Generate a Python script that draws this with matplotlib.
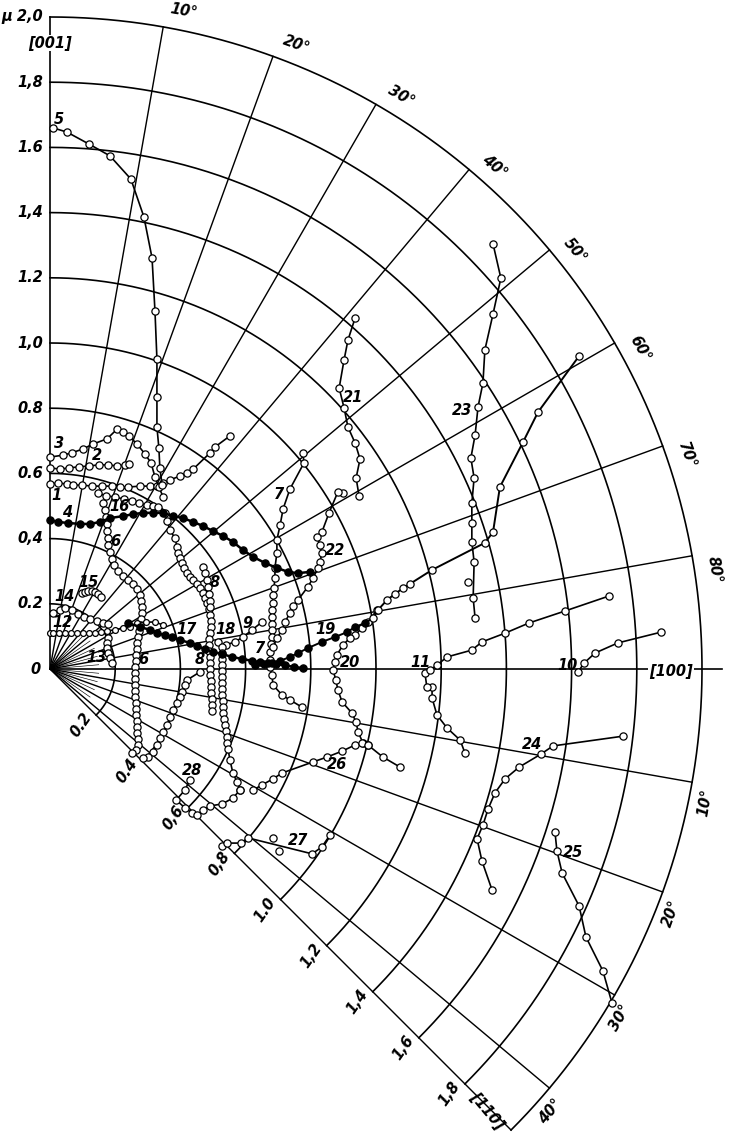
import numpy as np
import matplotlib.pyplot as plt

plt.rcParams['font.family'] = ['DejaVu Sans']

# ---- curves: mu components, x along [100], y along [001] (y < 0 : section toward [110]) ----
curve1 = [(0.0, 0.567), (0.025, 0.571), (0.052, 0.567), (0.071, 0.564), (0.098, 0.564), (0.129, 0.561),
          (0.160, 0.561), (0.190, 0.561), (0.215, 0.558), (0.239, 0.558), (0.276, 0.561), (0.307, 0.561),
          (0.328, 0.561), (0.347, 0.571), (0.368, 0.580), (0.399, 0.592), (0.420, 0.601), (0.439, 0.613),
          (0.491, 0.663), (0.506, 0.681), (0.552, 0.715)]
curve2 = [(0.0, 0.617), (0.031, 0.613), (0.058, 0.617), (0.089, 0.620), (0.120, 0.623), (0.150, 0.626),
          (0.178, 0.626), (0.206, 0.623), (0.230, 0.626), (0.242, 0.629)]
curve3 = [(0.0, 0.650), (0.040, 0.656), (0.067, 0.663), (0.101, 0.675), (0.132, 0.690), (0.175, 0.706),
          (0.206, 0.736), (0.224, 0.727), (0.242, 0.715), (0.267, 0.690), (0.291, 0.660), (0.310, 0.632),
          (0.322, 0.589), (0.334, 0.558), (0.347, 0.528)]
curve4 = [(0.0, 0.457), (0.025, 0.451), (0.055, 0.448), (0.092, 0.445), (0.123, 0.445), (0.153, 0.451),
          (0.184, 0.463), (0.224, 0.469), (0.255, 0.475), (0.285, 0.479), (0.316, 0.479), (0.347, 0.479),
          (0.377, 0.469), (0.408, 0.463), (0.439, 0.451), (0.469, 0.439), (0.500, 0.423), (0.531, 0.408),
          (0.561, 0.390), (0.592, 0.365), (0.623, 0.344), (0.660, 0.325), (0.696, 0.310), (0.730, 0.298),
          (0.761, 0.294), (0.798, 0.298)]
curve5 = [(0.009, 1.660), (0.052, 1.647), (0.120, 1.610), (0.184, 1.574), (0.248, 1.503), (0.288, 1.387),
          (0.313, 1.261), (0.322, 1.098), (0.328, 0.951), (0.328, 0.834), (0.328, 0.742), (0.334, 0.678),
          (0.337, 0.617), (0.344, 0.564)]
curve6 = [(0.163, 0.509), (0.169, 0.488), (0.172, 0.466), (0.175, 0.445), (0.175, 0.423), (0.178, 0.402),
          (0.178, 0.380), (0.184, 0.359), (0.190, 0.337), (0.196, 0.319), (0.209, 0.301), (0.224, 0.285),
          (0.239, 0.273), (0.255, 0.261), (0.267, 0.245), (0.276, 0.227), (0.279, 0.209), (0.282, 0.190),
          (0.282, 0.172), (0.279, 0.153), (0.276, 0.135), (0.273, 0.117), (0.270, 0.098), (0.267, 0.080),
          (0.267, 0.061), (0.264, 0.043), (0.264, 0.025), (0.261, 0.006), (0.261, -0.012), (0.261, -0.031),
          (0.261, -0.049), (0.261, -0.067), (0.261, -0.086), (0.264, -0.104), (0.264, -0.123), (0.264, -0.141),
          (0.267, -0.160), (0.267, -0.178), (0.267, -0.196), (0.270, -0.215), (0.270, -0.233), (0.264, -0.248),
          (0.252, -0.258)]
curve7 = [(0.776, 0.663), (0.779, 0.632), (0.736, 0.552), (0.715, 0.491), (0.706, 0.442), (0.696, 0.396),
          (0.696, 0.356), (0.690, 0.310), (0.690, 0.279), (0.687, 0.248), (0.684, 0.227), (0.684, 0.202),
          (0.681, 0.181), (0.681, 0.160), (0.681, 0.138), (0.681, 0.120), (0.681, 0.098), (0.678, 0.077),
          (0.675, 0.052), (0.675, 0.028), (0.675, 0.006), (0.681, -0.018), (0.684, -0.049), (0.712, -0.080),
          (0.736, -0.095), (0.773, -0.117)]
curve8 = [(0.353, 0.479), (0.359, 0.454), (0.368, 0.426), (0.383, 0.402), (0.390, 0.374), (0.393, 0.356),
          (0.399, 0.340), (0.405, 0.325), (0.411, 0.310), (0.420, 0.294), (0.429, 0.282), (0.439, 0.273),
          (0.451, 0.261), (0.460, 0.248), (0.469, 0.233), (0.475, 0.218), (0.482, 0.202), (0.488, 0.184),
          (0.491, 0.166), (0.494, 0.147), (0.494, 0.129), (0.491, 0.110), (0.488, 0.092), (0.488, 0.074),
          (0.488, 0.055), (0.491, 0.037), (0.491, 0.018), (0.491, 0.000), (0.491, -0.018), (0.494, -0.037),
          (0.494, -0.055), (0.494, -0.074), (0.497, -0.092), (0.497, -0.110), (0.497, -0.129)]
curve8b = [(0.469, 0.313), (0.475, 0.294), (0.482, 0.273), (0.485, 0.252), (0.488, 0.230), (0.491, 0.209),
           (0.491, 0.190)]
curve8c = [(0.460, -0.009), (0.420, -0.034), (0.414, -0.049), (0.405, -0.071), (0.399, -0.086), (0.390, -0.104),
           (0.377, -0.126), (0.368, -0.147), (0.359, -0.172), (0.347, -0.193), (0.337, -0.212), (0.328, -0.233),
           (0.316, -0.255), (0.301, -0.270), (0.285, -0.273)]
curve9 = [(0.650, 0.144), (0.620, 0.120), (0.592, 0.098), (0.567, 0.083), (0.540, 0.074)]
curve10 = [(1.620, -0.009), (1.638, 0.018), (1.672, 0.049), (1.742, 0.080), (1.874, 0.113)]
curve11 = [(1.273, -0.258), (1.258, -0.218), (1.218, -0.181), (1.187, -0.141), (1.172, -0.089), (1.172, -0.055),
           (1.156, -0.055), (1.150, -0.012), (1.166, -0.003), (1.187, 0.012), (1.218, 0.037), (1.294, 0.058),
           (1.325, 0.083), (1.396, 0.110), (1.469, 0.141), (1.580, 0.178), (1.715, 0.224)]
curve12 = [(0.0, 0.110), (0.009, 0.110), (0.028, 0.110), (0.046, 0.110), (0.064, 0.110), (0.083, 0.110),
           (0.101, 0.110), (0.120, 0.110), (0.138, 0.110), (0.156, 0.113), (0.175, 0.117), (0.199, 0.120),
           (0.224, 0.126), (0.245, 0.129), (0.267, 0.141), (0.294, 0.144), (0.322, 0.144), (0.347, 0.135)]
curve13 = [(0.178, 0.095), (0.175, 0.080), (0.175, 0.064), (0.178, 0.049), (0.184, 0.034), (0.190, 0.018)]
curve14 = [(0.009, 0.172), (0.031, 0.181), (0.046, 0.187), (0.067, 0.181), (0.086, 0.169), (0.104, 0.160),
           (0.123, 0.153), (0.144, 0.147), (0.163, 0.141), (0.178, 0.138)]
curve15 = [(0.098, 0.233), (0.107, 0.236), (0.117, 0.239), (0.129, 0.239), (0.138, 0.236), (0.147, 0.230),
           (0.156, 0.221)]
curve16 = [(0.147, 0.540), (0.172, 0.531), (0.199, 0.528), (0.227, 0.521), (0.252, 0.515), (0.273, 0.509),
           (0.298, 0.503), (0.316, 0.500), (0.331, 0.497)]
curve17 = [(0.239, 0.141), (0.276, 0.129), (0.307, 0.120), (0.328, 0.110), (0.353, 0.104), (0.374, 0.098),
           (0.399, 0.089), (0.429, 0.080), (0.451, 0.071), (0.475, 0.061), (0.500, 0.052), (0.528, 0.046),
           (0.558, 0.037), (0.589, 0.031), (0.620, 0.025), (0.644, 0.021), (0.669, 0.018), (0.693, 0.015),
           (0.721, 0.012), (0.748, 0.006), (0.776, 0.003)]
curve18 = [(0.515, 0.083), (0.528, 0.067), (0.528, 0.049), (0.528, 0.031), (0.528, 0.012), (0.528, -0.006),
           (0.528, -0.025), (0.528, -0.043), (0.528, -0.061), (0.528, -0.080), (0.531, -0.098), (0.531, -0.117),
           (0.531, -0.135), (0.534, -0.153), (0.537, -0.172), (0.540, -0.190), (0.543, -0.209), (0.543, -0.227),
           (0.546, -0.245), (0.552, -0.279), (0.561, -0.319), (0.574, -0.347), (0.583, -0.371)]
curve19 = [(0.629, 0.012), (0.656, 0.015), (0.681, 0.018), (0.706, 0.025), (0.736, 0.037), (0.761, 0.049),
           (0.791, 0.064), (0.834, 0.083), (0.874, 0.098), (0.911, 0.113), (0.936, 0.129), (0.966, 0.141),
           (0.991, 0.156), (1.006, 0.181), (1.034, 0.212), (1.058, 0.230), (1.083, 0.248), (1.104, 0.261),
           (1.172, 0.304), (1.334, 0.387), (1.359, 0.420), (1.380, 0.558), (1.451, 0.696), (1.497, 0.788),
           (1.623, 0.960)]
curve20 = [(1.003, 0.181), (0.975, 0.144), (0.957, 0.126), (0.936, 0.104), (0.920, 0.095), (0.899, 0.074),
           (0.880, 0.043), (0.874, 0.021), (0.868, -0.003), (0.877, -0.034), (0.883, -0.064), (0.896, -0.101),
           (0.926, -0.135), (0.939, -0.163), (0.945, -0.193), (0.960, -0.227), (0.975, -0.233), (1.021, -0.270),
           (1.074, -0.301)]
curve21 = [(0.936, 1.077), (0.914, 1.009), (0.902, 0.948), (0.887, 0.862), (0.902, 0.801), (0.914, 0.742),
           (0.936, 0.693), (0.951, 0.644), (0.939, 0.586), (0.948, 0.531)]
curve22 = [(0.899, 0.540), (0.883, 0.543), (0.856, 0.479), (0.834, 0.420), (0.819, 0.405), (0.828, 0.380),
           (0.834, 0.356), (0.828, 0.328), (0.822, 0.310), (0.807, 0.279), (0.791, 0.252), (0.761, 0.212),
           (0.745, 0.193), (0.736, 0.172), (0.721, 0.144), (0.712, 0.120), (0.696, 0.095), (0.684, 0.067)]
curve23 = [(1.359, 1.304), (1.383, 1.199), (1.359, 1.089), (1.334, 0.979), (1.328, 0.877), (1.313, 0.804),
           (1.304, 0.718), (1.291, 0.647), (1.301, 0.586), (1.294, 0.509), (1.294, 0.448), (1.294, 0.390),
           (1.301, 0.328), (1.298, 0.218), (1.304, 0.156)]
curve23_extra = [(1.282, 0.267)]
curve24 = [(1.758, -0.206), (1.543, -0.236), (1.506, -0.261), (1.439, -0.301), (1.396, -0.337), (1.365, -0.380),
           (1.344, -0.429), (1.328, -0.479), (1.310, -0.521), (1.325, -0.589), (1.356, -0.678)]
curve25 = [(1.549, -0.500), (1.555, -0.558), (1.571, -0.626), (1.623, -0.727), (1.644, -0.822), (1.696, -0.926),
           (1.724, -1.025)]
curve26 = [(0.623, -0.371), (0.650, -0.356), (0.684, -0.337), (0.712, -0.319), (0.807, -0.285), (0.850, -0.270),
           (0.896, -0.252), (0.936, -0.233), (0.957, -0.227), (0.975, -0.233)]
curve27 = [(0.528, -0.543), (0.543, -0.534), (0.586, -0.534), (0.607, -0.518), (0.804, -0.567), (0.834, -0.546),
           (0.859, -0.509)]
curve27_extra = [(0.684, -0.518), (0.702, -0.558)]
curve28 = [(0.429, -0.340), (0.414, -0.371), (0.387, -0.402), (0.414, -0.426), (0.436, -0.442), (0.451, -0.448),
           (0.469, -0.433), (0.491, -0.420), (0.528, -0.414), (0.561, -0.396), (0.583, -0.371)]

open_curves = [curve1, curve2, curve3, curve5, curve6, curve7, curve8, curve8b, curve8c, curve9, curve10,
               curve11, curve13, curve14, curve15, curve16, curve18, curve20, curve21, curve22, curve23,
               curve24, curve25, curve26, curve27, curve28]
small_curves = [curve12]
filled_curves = [curve4, curve17]
n_filled_19 = 12
scatter_only = curve23_extra + curve27_extra

# curve numbers and where they are written
curve_labels = [('5', 0.028, 1.687), ('3', 0.028, 0.693), ('2', 0.144, 0.656), ('1', 0.021, 0.531),
                ('4', 0.052, 0.479), ('16', 0.212, 0.497), ('6', 0.199, 0.390), ('15', 0.117, 0.264),
                ('14', 0.046, 0.221), ('12', 0.037, 0.144), ('13', 0.144, 0.034), ('6', 0.285, 0.028),
                ('17', 0.420, 0.120), ('18', 0.537, 0.120), ('8', 0.506, 0.264), ('8', 0.460, 0.028),
                ('9', 0.607, 0.141), ('7', 0.644, 0.064), ('7', 0.702, 0.534), ('19', 0.844, 0.120),
                ('20', 0.920, 0.021), ('21', 0.929, 0.834), ('22', 0.874, 0.362), ('23', 1.264, 0.794),
                ('11', 1.135, 0.021), ('10', 1.586, 0.012), ('24', 1.479, -0.233), ('25', 1.604, -0.564),
                ('26', 0.880, -0.294), ('27', 0.761, -0.525), ('28', 0.436, -0.310)]

# grid
radii = [0.2, 0.4, 0.6, 0.8, 1.0, 1.2, 1.4, 1.6, 1.8, 2.0]
axis_labels = ['0.2', '0,4', '0.6', '0.8', '1,0', '1.2', '1,4', '1.6', '1,8', '2,0']
lower_labels = ['0.2', '0.4', '0,6', '0,8', '1.0', '1,2', '1,4', '1,6', '1,8']
upper_angles = [10, 20, 30, 40, 50, 60, 70, 80]
lower_angles = [10, 20, 30, 40]

fig = plt.figure(figsize=(7.32, 11.38), dpi=100)
ax = fig.add_axes([0, 0, 1, 1])
ax.set_xlim(-50 / 326, 682 / 326)
ax.set_ylim(-469 / 326, 669 / 326)
ax.set_aspect('equal')
ax.axis('off')

lw = 1.2
# phi measured from [001] clockwise; 90 = [100], 135 = [110]
phi = np.radians(np.linspace(0, 135, 400))
for r in radii:
    ax.plot(r * np.sin(phi), r * np.cos(phi), color='k', lw=lw, zorder=1)

ax.plot([0, 0], [0, 2.0], color='k', lw=lw, zorder=1)
ax.plot([0, 2.06], [0, 0], color='k', lw=lw, zorder=1)
for a in upper_angles:
    t = np.radians(a)
    ax.plot([0, 2.0 * np.sin(t)], [0, 2.0 * np.cos(t)], color='k', lw=lw * 0.85, zorder=1)
for a in lower_angles + [45]:
    t = np.radians(a)
    ax.plot([0, 2.0 * np.cos(t)], [0, -2.0 * np.sin(t)], color='k', lw=lw * 0.85, zorder=1)
# short fan lines near the origin
for a in range(45, 135, 5):
    if a % 10 == 0:
        continue
    t = np.radians(a)
    ax.plot([0, 0.15 * np.sin(t)], [0, 0.15 * np.cos(t)], color='k', lw=0.45, zorder=1)

txt = dict(fontsize=10.5, style='italic', weight='bold', color='k')
for r, lab in zip(radii, axis_labels):
    s = lab if r < 2.0 else '\u03bc ' + lab
    ax.text(-0.022, r, s, ha='right', va='center', **txt)
ax.text(-0.03, 0.0, '0', ha='right', va='center', **txt)
ax.text(0.0, 1.92, '[001]', ha='center', va='center', zorder=3,
        bbox=dict(fc='white', ec='none', pad=0.5), **txt)
ax.text(1.905, -0.009, '[100]', ha='center', va='center', zorder=3,
        bbox=dict(fc='white', ec='none', pad=0.5), **txt)
ax.text(1.34, -1.355, '[110]', ha='center', va='center', rotation=-50, **txt)

d = np.sqrt(0.5)
for r, lab in zip(radii[:-1], lower_labels):
    ax.text(r * d - 0.046, -r * d - 0.031, lab, ha='center', va='center', rotation=55, **txt)

for a in upper_angles:
    t = np.radians(a + 1.5)
    ax.text(2.06 * np.sin(t), 2.06 * np.cos(t), f'{a}°', ha='center', va='center', rotation=-a, **txt)
for a in lower_angles:
    t = np.radians(a + 1.5)
    ax.text(2.05 * np.cos(t), -2.05 * np.sin(t), f'{a}°', ha='center', va='center', rotation=90 - a, **txt)

# curves
mk = dict(marker='o', ms=5.2, mec='k', mew=0.9, color='k', zorder=4)
for pts in open_curves:
    xs, ys = zip(*pts)
    ax.plot(xs, ys, lw=1.2, mfc='white', **mk)
for pts in small_curves:
    xs, ys = zip(*pts)
    ax.plot(xs, ys, lw=1.2, mfc='white', **{**mk, 'ms': 4.2})
for pts in filled_curves:
    xs, ys = zip(*pts)
    ax.plot(xs, ys, lw=1.8, mfc='k', **mk)
xs, ys = zip(*curve19)
ax.plot(xs, ys, color='k', lw=1.4, zorder=4)
ax.plot(xs[:n_filled_19], ys[:n_filled_19], ls='none', mfc='k', **mk)
ax.plot(xs[n_filled_19:], ys[n_filled_19:], ls='none', mfc='white', **mk)
xs, ys = zip(*scatter_only)
ax.plot(xs, ys, ls='none', mfc='white', **mk)

for s, x, y in curve_labels:
    ax.text(x, y, s, ha='center', va='center', zorder=5, **txt)

fig.savefig('out.png', dpi=100)
